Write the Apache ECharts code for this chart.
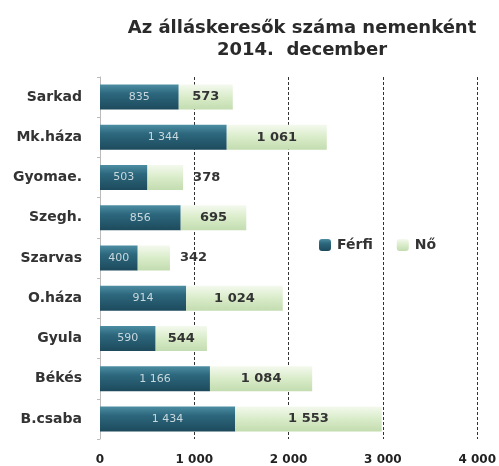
<!DOCTYPE html>
<html>
<head>
<meta charset="utf-8">
<script src="https://cdn.jsdelivr.net/npm/echarts@6/dist/echarts.min.js"></script>
<style>
html,body{margin:0;padding:0;background:#fff;}
#c{width:499px;height:466px;}
</style>
</head>
<body>
<div id="c"></div>
<script>
const titleLines = ['Az álláskeresők száma nemenként', '2014.  december'];
const categories = ['Sarkad', 'Mk.háza', 'Gyomae.', 'Szegh.', 'Szarvas', 'O.háza', 'Gyula', 'Békés', 'B.csaba'];
const ferfi = [835, 1344, 503, 856, 400, 914, 590, 1166, 1434];
const no = [573, 1061, 378, 695, 342, 1024, 544, 1084, 1553];
const seriesNames = ['Férfi', 'Nő'];
const xTicks = [0, 1000, 2000, 3000, 4000];
const outsideLabelCats = ['Gyomae.', 'Szarvas'];

function fmt(v) {
  const s = String(v);
  return s.length > 3 ? s.slice(0, s.length - 3) + ' ' + s.slice(-3) : s;
}

const chart = echarts.init(document.getElementById('c'));
const darkGrad = new echarts.graphic.LinearGradient(0, 0, 0, 1, [
  {offset: 0, color: '#4d8ea3'},
  {offset: 0.35, color: '#2d687e'},
  {offset: 1, color: '#1d4a5c'}
]);
const greenGrad = new echarts.graphic.LinearGradient(0, 0, 0, 1, [
  {offset: 0, color: '#f4f9ee'},
  {offset: 0.5, color: '#d9ecc9'},
  {offset: 1, color: '#c3dcb0'}
]);

chart.setOption({
  animation: false,
  backgroundColor: '#fff',
  title: {
    text: titleLines.join('\n'),
    left: 297,
    textAlign: 'center',
    top: 12,
    textStyle: {fontFamily: 'DejaVu Sans', fontWeight: 'bold', fontSize: 18, color: '#2a2a2a', lineHeight: 22}
  },
  legend: {
    data: seriesNames,
    left: 314,
    top: 233,
    itemWidth: 12,
    itemHeight: 12,
    itemGap: 24,
    icon: 'roundRect',
    textStyle: {fontFamily: 'DejaVu Sans', fontSize: 14, fontWeight: 'bold', color: '#333', padding: [0, 0, 0, 1]}
  },
  grid: {left: 100, right: 19, top: 77, bottom: 26, containLabel: false},
  xAxis: {
    type: 'value',
    min: xTicks[0],
    max: xTicks[xTicks.length - 1],
    interval: 1000,
    axisLine: {show: false},
    axisTick: {show: false},
    axisLabel: {
      formatter: v => fmt(v),
      fontFamily: 'DejaVu Sans', fontSize: 12, fontWeight: 'bold', color: '#222', margin: 15
    },
    splitLine: {show: true, lineStyle: {color: '#333', type: [3, 2], width: 1}}
  },
  yAxis: {
    type: 'category',
    data: categories,
    inverse: true,
    axisLine: {show: true, lineStyle: {color: '#bbb'}},
    axisTick: {show: true, length: 3, lineStyle: {color: '#bbb'}},
    axisLabel: {fontFamily: 'DejaVu Sans', fontSize: 14, fontWeight: 'bold', color: '#333', margin: 18}
  },
  series: [
    {
      name: seriesNames[0],
      type: 'bar',
      stack: 'a',
      barWidth: 25,
      itemStyle: {color: darkGrad},
      label: {
        show: true, position: 'inside',
        formatter: p => fmt(p.value),
        fontFamily: 'DejaVu Sans', fontSize: 11, color: '#c8d8de'
      },
      data: ferfi
    },
    {
      name: seriesNames[1],
      type: 'bar',
      stack: 'a',
      barWidth: 25,
      itemStyle: {color: greenGrad},
      label: {
        show: true, position: 'inside',
        formatter: p => fmt(p.value),
        fontFamily: 'DejaVu Sans', fontSize: 13, fontWeight: 'bold', color: '#333'
      },
      data: no.map((v, i) => outsideLabelCats.includes(categories[i])
        ? {value: v, label: {position: 'right', distance: 10}}
        : v)
    }
  ]
});
</script>
</body>
</html>
